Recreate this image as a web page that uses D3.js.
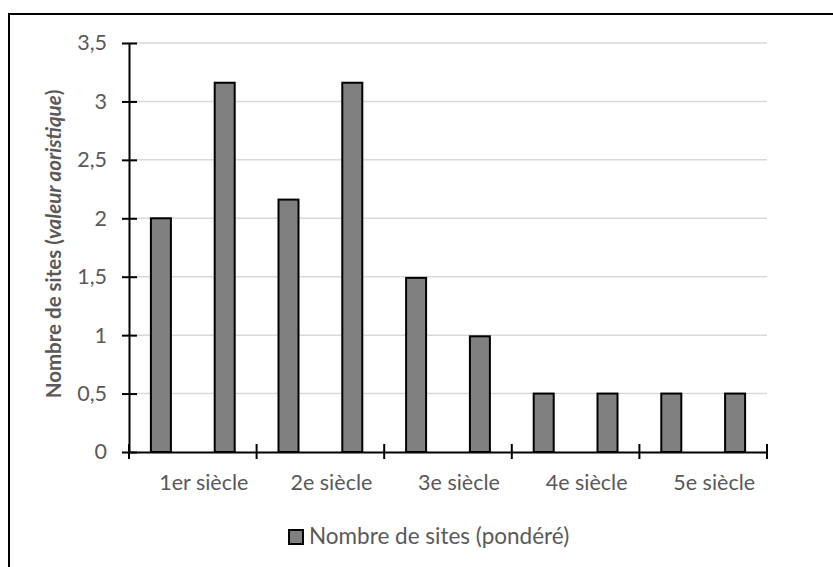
<!DOCTYPE html>
<html>
<head>
<meta charset="utf-8">
<script src="https://cdn.jsdelivr.net/npm/d3@7"></script>
<style>
  html, body { margin: 0; padding: 0; background: #fff; }
  svg { display: block; }
  text { font-family: Lato, "Open Sans", sans-serif; }
</style>
</head>
<body>
<svg id="chart" width="833" height="567"></svg>
<script>
// ---- data ----
const categories = ["1er siècle", "2e siècle", "3e siècle", "4e siècle", "5e siècle"];
const halves = ["a", "b"];
const values = [2.0, 3.16, 2.16, 3.16, 1.49, 0.99, 0.5, 0.5, 0.5, 0.5];
const yTicks = [0, 0.5, 1, 1.5, 2, 2.5, 3, 3.5];
const seriesName = "Nombre de sites (pondéré)";

(function () {
const svg = d3.select("#chart");
const FS = 21.5;

// outer frame
svg.append("rect").attr("x", 9).attr("y", 14).attr("width", 840).attr("height", 570)
  .attr("fill", "#fff").attr("stroke", "#000").attr("stroke-width", 2);

const mLeft = 129, mRight = 767, mTop = 43, mBottom = 452;

const x0 = d3.scaleBand().domain(categories).range([mLeft, mRight]).padding(0);
const x1 = d3.scaleBand().domain(halves).range([0, x0.bandwidth()]).padding(0);
const y = d3.scaleLinear().domain([0, 3.5]).range([mBottom, mTop]);

// gridlines
svg.append("g").selectAll("line").data(yTicks.filter(d => d > 0)).join("line")
  .attr("x1", mLeft).attr("x2", mRight)
  .attr("y1", d => y(d)).attr("y2", d => y(d))
  .attr("stroke", "#d9d9d9").attr("stroke-width", 1.5);

// bars
const barW = 20;
const barData = values.map((v, i) => ({ cat: categories[Math.floor(i / 2)], half: halves[i % 2], v }));
svg.append("g").selectAll("rect").data(barData).join("rect")
  .attr("x", d => x0(d.cat) + x1(d.half) + x1.bandwidth() / 2 - barW / 2)
  .attr("y", d => y(d.v))
  .attr("width", barW)
  .attr("height", d => y(0) - y(d.v))
  .attr("fill", "#808080").attr("stroke", "#000").attr("stroke-width", 2);

// y axis
const yAxis = d3.axisLeft(y).tickValues(yTicks)
  .tickFormat(d => String(d).replace(".", ","))
  .tickSizeInner(0).tickSizeOuter(0).tickPadding(22);
const gy = svg.append("g").attr("transform", `translate(${mLeft},0)`).call(yAxis);
gy.select(".domain").attr("stroke", "#000").attr("stroke-width", 2);
gy.selectAll(".tick text").attr("font-size", FS).attr("fill", "#595959")
  .attr("font-family", "Lato, sans-serif");
gy.selectAll(".tick").append("line").attr("x1", -7).attr("x2", 8)
  .attr("stroke", "#000").attr("stroke-width", 2);

// x axis
const xAxis = d3.axisBottom(x0).tickSize(0).tickSizeOuter(0).tickPadding(23);
const gx = svg.append("g").attr("transform", `translate(0,${mBottom})`).call(xAxis);
gx.select(".domain").attr("stroke", "#000").attr("stroke-width", 2);
gx.selectAll(".tick text").attr("font-size", FS).attr("fill", "#595959")
  .attr("font-family", "Lato, sans-serif").attr("dx", 11);
const bounds = categories.map(c => x0(c)).concat([x0(categories[categories.length - 1]) + x0.bandwidth()]);
gx.append("g").selectAll("line").data(bounds).join("line")
  .attr("x1", d => d).attr("x2", d => d).attr("y1", -8).attr("y2", 7)
  .attr("stroke", "#000").attr("stroke-width", 2);

// y axis title
const yt = svg.append("text")
  .attr("transform", `translate(61,244) rotate(-90)`)
  .attr("text-anchor", "middle").attr("font-size", 20.5).attr("font-weight", "bold")
  .attr("fill", "#595959");
yt.append("tspan").text("Nombre de sites (");
yt.append("tspan").attr("font-style", "italic").text("valeur aoristique");
yt.append("tspan").text(")");

// legend
const lg = svg.append("g").attr("transform", "translate(289,530)");
lg.append("rect").attr("x", 0).attr("y", 0).attr("width", 14).attr("height", 14)
  .attr("fill", "#808080").attr("stroke", "#000").attr("stroke-width", 2);
lg.append("text").attr("x", 20).attr("y", 14).attr("font-size", 22.5).attr("fill", "#595959")
  .text(seriesName);
})();
</script>
</body>
</html>
